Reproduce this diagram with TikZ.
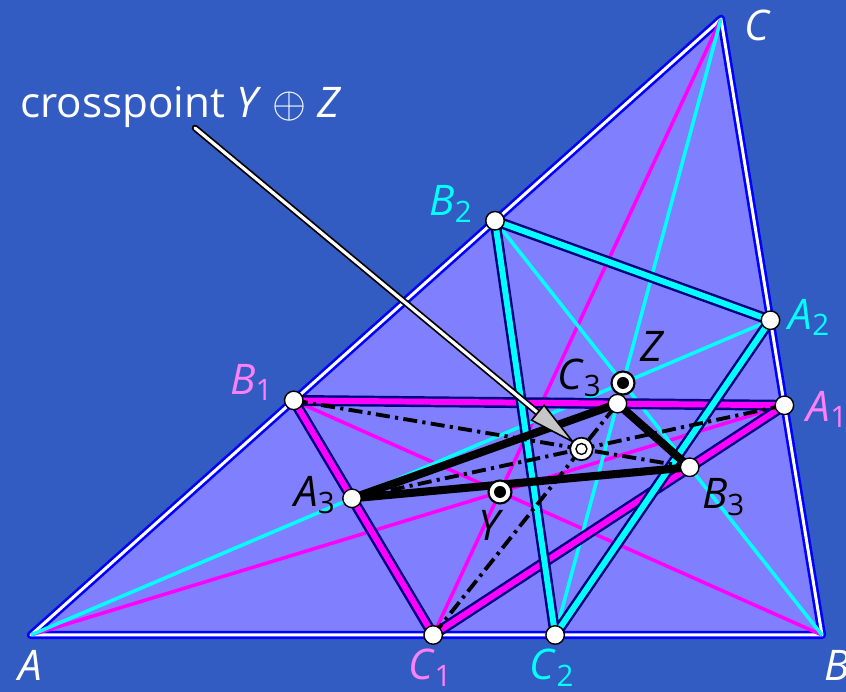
\documentclass[tikz,border=0pt]{standalone}
\usepackage{fontspec}
\setmainfont{Open Sans}
\usetikzlibrary{arrows.meta, calc}
\definecolor{bgblue}{RGB}{51,92,194}
\definecolor{trifill}{RGB}{128,128,255}
\definecolor{navyline}{RGB}{0,0,128}
\definecolor{pinklabel}{RGB}{255,128,255}
\definecolor{magline}{RGB}{255,0,255}
\definecolor{cyanline}{RGB}{0,255,255}
\definecolor{edgeblue}{RGB}{0,0,255}
\newcommand{\vx}[2]{\textit{#1}\textsubscript{#2}}

\begin{document}
\begin{tikzpicture}[
  side/.style={draw=edgeblue, double=white, double distance=1.7pt, line width=1.5pt, line join=round},
  cevm/.style={magline, line width=2pt},
  cevc/.style={cyanline, line width=2pt},
  trim/.style={draw=navyline, double=magline, double distance=3.4pt, line width=1.4pt, line join=round},
  tric/.style={draw=navyline, double=cyanline, double distance=3.4pt, line width=1.4pt, line join=round},
  trik/.style={draw=black, line width=4.6pt, line join=round},
  dashdot/.style={black, line width=2.2pt, dash pattern=on 8pt off 3pt on 1.8pt off 3pt},
  pt/.style={circle, draw=black, fill=white, line width=0.8pt, minimum size=0.37cm, inner sep=0pt},
  ptdot/.style={circle, draw=black, fill=white, line width=1.2pt, minimum size=0.46cm, inner sep=0pt,
    path picture={\fill[black] (path picture bounding box.center) circle (0.12cm);}},
  ptring/.style={circle, draw=black, fill=white, line width=1pt, minimum size=0.45cm, inner sep=0pt,
    path picture={\draw[black, line width=0.8pt] (path picture bounding box.center) circle (0.11cm);}},
  lbl/.style={font=\fontsize{24}{29}\selectfont, inner sep=0pt},
]
% background
\fill[bgblue] (0,0) rectangle (16.92,13.84);
\useasboundingbox (0,0) rectangle (16.92,13.84);

% triangle and the two cevian points
\coordinate (A) at (0.62,1.14);
\coordinate (B) at (16.44,1.14);
\coordinate (C) at (14.42,13.46);
\coordinate (Y) at (10.00,4.00);
\coordinate (Z) at (12.46,6.18);

% cevian triangles
\coordinate (A1) at (intersection of A--Y and B--C);
\coordinate (B1) at (intersection of B--Y and A--C);
\coordinate (C1) at (intersection of C--Y and A--B);
\coordinate (A2) at (intersection of A--Z and B--C);
\coordinate (B2) at (intersection of B--Z and A--C);
\coordinate (C2) at (intersection of C--Z and A--B);

% third triangle and the crosspoint
\coordinate (A3) at (intersection of A--A2 and B1--C1);
\coordinate (B3) at (intersection of B--B2 and C1--A1);
\coordinate (C3) at (intersection of C--C2 and A1--B1);
\coordinate (X) at (intersection of A1--A3 and B1--B3);
\coordinate (tail) at (3.9,11.28);

\fill[trifill] (A) -- (B) -- (C) -- cycle;
\draw[side] (A) -- (B) -- (C) -- cycle;

% cevians
\draw[cevm] (A) -- (A1);
\draw[cevm] (B) -- (B1);
\draw[cevm] (C) -- (C1);
\draw[cevc] (A) -- (A2);
\draw[cevc] (B) -- (B2);
\draw[cevc] (C) -- (C2);

\draw[trim] (A1) -- (B1) -- (C1) -- cycle;
\draw[tric] (A2) -- (B2) -- (C2) -- cycle;
\draw[trik] (A3) -- (B3) -- (C3) -- cycle;

\draw[dashdot] (A1) -- (A3);
\draw[dashdot] (B1) -- (B3);
\draw[dashdot] (C1) -- (C3);

% pointer to the crosspoint
\draw[double=white, double distance=1.8pt, line width=1pt, line cap=round] (tail) -- ($(X)!1.1cm!(tail)$);
\draw[line width=0.9pt, -{Triangle[length=1cm, width=0.42cm, fill=gray!45]}] ($(X)!1.15cm!(tail)$) -- ($(X)!0.15cm!(tail)$);

% points
\foreach \p in {A1,B1,C1,A2,B2,C2,A3,B3,C3}
  \node[pt] (n\p) at (\p) {};
\node[ptdot] (nY) at (Y) {};
\node[ptdot] (nZ) at (Z) {};
\node[ptring] (nX) at (X) {};

% labels
\node[lbl, white] (lA) at ($(A)+(-0.02,-0.6)$) {\textit{A}};
\node[lbl, white] (lB) at ($(B)+(0.3,-0.6)$) {\textit{B}};
\node[lbl, white] (lC) at ($(C)+(0.74,-0.12)$) {\textit{C}};
\node[lbl, pinklabel] (lA1) at ($(A1)+(0.86,-0.08)$) {\vx{A}{1}};
\node[lbl, pinklabel] (lB1) at ($(B1)+(-0.84,0.36)$) {\vx{B}{1}};
\node[lbl, pinklabel] (lC1) at ($(C1)+(-0.06,-0.66)$) {\vx{C}{1}};
\node[lbl, cyanline] (lA2) at ($(A2)+(0.78,0.06)$) {\vx{A}{2}};
\node[lbl, cyanline] (lB2) at ($(B2)+(-0.88,0.34)$) {\vx{B}{2}};
\node[lbl, cyanline] (lC2) at ($(C2)+(-0.06,-0.66)$) {\vx{C}{2}};
\node[lbl] (lA3) at ($(A3)+(-0.74,0.06)$) {\vx{A}{3}};
\node[lbl] (lB3) at ($(B3)+(0.68,-0.6)$) {\vx{B}{3}};
\node[lbl] (lC3) at ($(C3)+(-0.76,0.52)$) {\vx{C}{3}};
\node[lbl] (lY) at ($(Y)+(-0.18,-0.66)$) {\textit{Y}};
\node[lbl] (lZ) at ($(Z)+(0.6,0.74)$) {\textit{Z}};
\node[lbl, white] (cross) at (3.62,11.70) {crosspoint \textit{Y} $\oplus$ \textit{Z}};
\end{tikzpicture}
\end{document}
